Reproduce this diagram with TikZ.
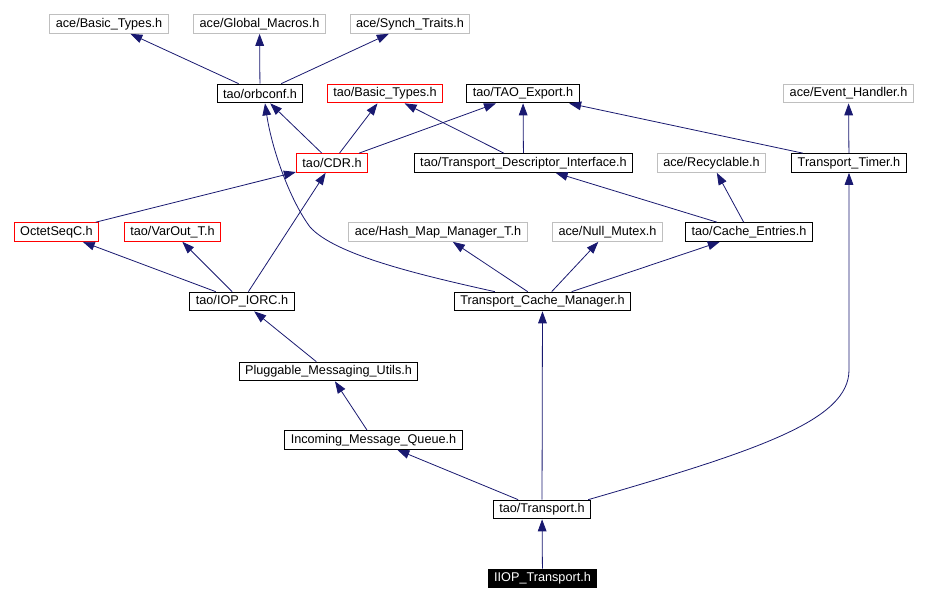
\documentclass[tikz,border=0pt]{standalone}
\usepackage{fontspec}
\setmainfont{Liberation Sans}
\usepackage{xcolor}
\definecolor{dxnavy}{RGB}{25,25,112}
\definecolor{dxgray}{RGB}{191,191,191}
\definecolor{dxred}{RGB}{255,0,0}
\usetikzlibrary{arrows.meta,positioning,calc}

\begin{document}
\begin{tikzpicture}[
  x=0.75pt,y=-0.75pt,
  hdr/.style={draw=black,line width=0.75pt,inner xsep=4.5pt,inner ysep=1pt,minimum height=14pt,
    font=\fontsize{9.5}{11}\selectfont},
  hdrgray/.style={hdr,draw=dxgray},
  hdrred/.style={hdr,draw=dxred},
  hdrroot/.style={hdr,fill=black,text=white},
  dep/.style={-{Triangle[length=9pt,width=6.5pt]},line width=0.6pt,dxnavy}
]
  \useasboundingbox (0,0) rectangle (928,603);
  % Headers
  \node[hdrgray] (acebt) at (109,24) {ace/Basic\_Types.h};
  \node[hdrgray] (acegm) at (259.5,24) {ace/Global\_Macros.h};
  \node[hdrgray] (acest) at (410,24) {ace/Synch\_Traits.h};
  \node[hdr] (orbconf) at (260,93.5) {tao/orbconf.h};
  \node[hdrred] (taobt) at (385,93.5) {tao/Basic\_Types.h};
  \node[hdr] (taoexp) at (523,93.5) {tao/TAO\_Export.h};
  \node[hdrgray] (aceeh) at (848.5,93.5) {ace/Event\_Handler.h};
  \node[hdrred] (cdr) at (332,163) {tao/CDR.h};
  \node[hdr] (tdi) at (523.5,163) {tao/Transport\_Descriptor\_Interface.h};
  \node[hdrgray] (acerc) at (711.5,163) {ace/Recyclable.h};
  \node[hdr] (ttimer) at (849,163) {Transport\_Timer.h};
  \node[hdrred] (octet) at (56.5,232) {OctetSeqC.h};
  \node[hdrred] (varout) at (172.5,232) {tao/VarOut\_T.h};
  \node[hdrgray] (acehm) at (438,232) {ace/Hash\_Map\_Manager\_T.h};
  \node[hdrgray] (acenm) at (607.5,232) {ace/Null\_Mutex.h};
  \node[hdr] (cache) at (749,232) {tao/Cache\_Entries.h};
  \node[hdr] (iorc) at (242,301.5) {tao/IOP\_IORC.h};
  \node[hdr] (tcm) at (542.5,301.5) {Transport\_Cache\_Manager.h};
  \node[hdr] (pmu) at (328.5,371.5) {Pluggable\_Messaging\_Utils.h};
  \node[hdr] (imq) at (373.5,440) {Incoming\_Message\_Queue.h};
  \node[hdr] (transport) at (542,509.5) {tao/Transport.h};
  \node[hdrroot] (iiop) at (542.5,578.5) {IIOP\_Transport.h};
  % Includes
  \draw[dep] (orbconf) -- (acebt);
  \draw[dep] (orbconf) -- (acegm);
  \draw[dep] (orbconf) -- (acest);
  \draw[dep] (cdr) -- (orbconf);
  \draw[dep] (cdr) -- (taobt);
  \draw[dep] (cdr) -- (taoexp);
  \draw[dep] (tdi) -- (taobt);
  \draw[dep] (tdi) -- (taoexp);
  \draw[dep] (ttimer) -- (taoexp);
  \draw[dep] (ttimer) -- (aceeh);
  \draw[dep] (octet) -- (cdr);
  \draw[dep] (iorc) -- (octet);
  \draw[dep] (iorc) -- (varout);
  \draw[dep] (iorc) -- (cdr);
  \draw[dep] ($(tcm.north west)+(41,0)$) .. controls (420,275) and (335,255) .. (310,227)
    .. controls (290,200) and (272,150) .. ($(orbconf.south)+(5,0)$);
  \draw[dep] (tcm) -- (acehm);
  \draw[dep] (tcm) -- (acenm);
  \draw[dep] (tcm) -- (cache);
  \draw[dep] (cache) -- (tdi);
  \draw[dep] (cache) -- (acerc);
  \draw[dep] (pmu) -- (iorc);
  \draw[dep] (imq) -- (pmu);
  \draw[dep] (transport) -- (imq);
  \draw[dep] (transport) -- (tcm);
  \draw[dep] ($(transport.north east)+(-3,0)$) .. controls (760,450) and (849,420) .. (849,370)
    -- (ttimer.south);
  \draw[dep] (iiop) -- (transport);
\end{tikzpicture}
\end{document}
